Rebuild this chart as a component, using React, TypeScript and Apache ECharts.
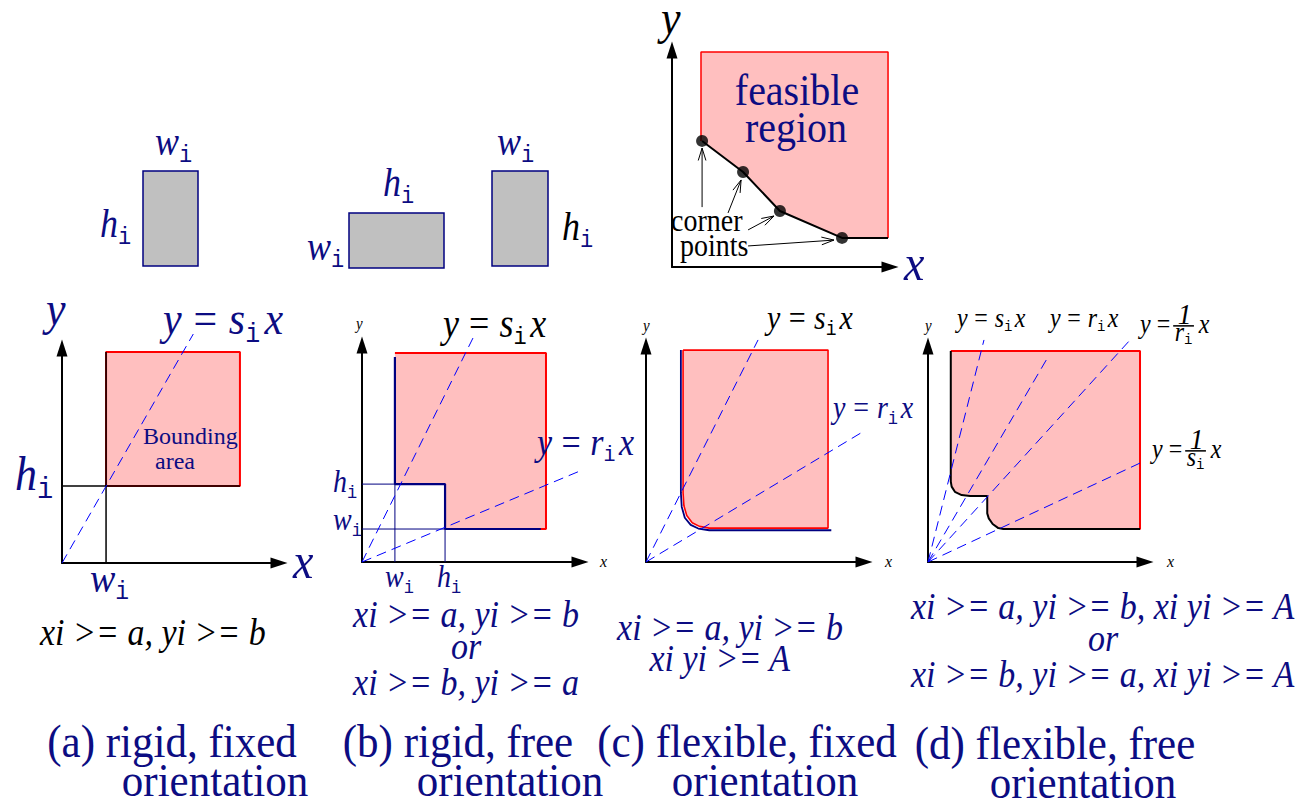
import React, { useEffect, useRef } from "react";
import * as echarts from "echarts";

// ---------- colours ----------
const NAVY = "#0c0c82";
const LINE_NAVY = "#000080";
const BLUE = "#0000ff";
const RED = "#ff0000";
const PINK = "#ffbfbf";
const GRAY = "#c0c0c0";
const BLACK = "#000000";

// ---------- panel grids: left, top, width, height, xMax, yMax, axesVisible ----------
const GRIDS = [
  [100, 130, 500, 150, 50, 15, false], // top row of boxes
  [672, 50, 218, 217, 10, 10, true], // feasible region
  [62, 348, 217, 215, 10, 10, true], // (a)
  [362, 345, 218, 217, 10, 10, true], // (b)
  [646, 346, 218, 216, 10, 10, true], // (c)
  [928, 346, 217, 216, 10, 10, true], // (d)
];

// ---------- top row: boxes [x1, y1, x2, y2] ----------
const boxes = [
  [4.3, 1.4, 9.8, 10.9],
  [24.9, 1.2, 34.4, 6.7],
  [39.2, 1.4, 44.8, 10.9],
];

// ---------- feasible region panel ----------
const fRegion = [[1.33, 5.81], [1.33, 9.91], [9.91, 9.91], [9.91, 1.34], [7.8, 1.34], [4.95, 2.58], [3.26, 4.38], [1.38, 5.81]];
const fCorners = [[1.38, 5.81], [3.26, 4.38], [4.95, 2.58], [7.8, 1.34]];
const fFrontier = [[1.38, 5.81], [3.26, 4.38], [4.95, 2.58], [7.8, 1.34], [9.91, 1.34]];
const fRedEdge = [[1.33, 5.81], [1.33, 9.91], [9.91, 9.91], [9.91, 1.34]];
const fArrows = [
  [1.38, 2.76, 1.38, 5.48],
  [2.57, 2.49, 3.17, 4.01],
  [3.49, 1.71, 4.68, 2.35],
  [3.49, 0.97, 7.43, 1.24],
];

// ---------- (a) rigid, fixed ----------
const aRegion = [[2.03, 3.58], [8.2, 3.58], [8.2, 9.81], [2.03, 9.81]];
const aRed = [[2.03, 3.58], [8.2, 3.58], [8.2, 9.81], [2.03, 9.81], [2.03, 3.58]];
const aW = [[2.03, 0], [2.03, 9.81]];
const aH = [[0, 3.58], [8.2, 3.58]];
const aS = [[0, 0], [6.05, 10.65]];

// ---------- (b) rigid, free ----------
const bRegion = [[1.51, 9.63], [8.44, 9.63], [8.44, 1.52], [3.81, 1.52], [3.81, 3.59], [1.51, 3.59]];
const bRed = [[1.51, 9.63], [8.44, 9.63], [8.44, 1.52], [3.81, 1.52]];
const bStair = [[1.51, 9.45], [1.51, 3.59], [3.81, 3.59], [3.81, 1.52], [8.2, 1.52]];
const bThin = [
  [[0, 3.59], [1.51, 3.59]],
  [[0, 1.52], [3.81, 1.52]],
  [[1.51, 0], [1.51, 3.59]],
  [[3.81, 0], [3.81, 1.52]],
];
const bS = [[0, 0], [5.09, 10.32]];
const bR = [[0, 0], [10.32, 4.33]];

// ---------- (c) flexible, fixed ----------
const cRegion = [[1.7, 9.81], [8.35, 9.81], [8.35, 1.57], [2.9, 1.57], [2.45, 1.65], [2.12, 1.82], [1.87, 2.15], [1.74, 2.6], [1.7, 3.2]];
const cRed = [[1.7, 9.81], [8.35, 9.81], [8.35, 1.57], [2.9, 1.57], [2.45, 1.65], [2.12, 1.82], [1.87, 2.15], [1.74, 2.6], [1.7, 3.2], [1.7, 9.81]];
const cNavy = [[1.6, 9.81], [1.6, 3.2], [1.64, 2.55], [1.78, 2.05], [2.05, 1.72], [2.4, 1.55], [2.9, 1.47], [8.5, 1.47]];
const cS = [[0, 0], [5.14, 10.28]];
const cR = [[0, 0], [10.23, 6.2]];

// ---------- (d) flexible, free ----------
const dStair = [[1.05, 9.77], [1.05, 3.72], [1.09, 3.49], [1.24, 3.25], [1.55, 3.1], [1.94, 3.06], [2.73, 3.06], [2.73, 2.25], [2.8, 2.02], [2.98, 1.76], [3.24, 1.57], [3.47, 1.53], [9.77, 1.53]];
const dRegion = [...dStair, [9.77, 9.77]];
const dRed = [[1.05, 9.77], [9.77, 9.77], [9.77, 1.53], [3.47, 1.53]];
const dS = [[0, 0], [2.58, 10.28]];
const dR = [[0, 0], [5.53, 9.49]];
const dRinv = [[0, 0], [9.34, 10.31]];
const dSinv = [[0, 0], [9.77, 4.58]];

// ---------- texts ----------
const captions = [
  ["(a) rigid, fixed", "orientation"],
  ["(b) rigid, free", "orientation"],
  ["(c) flexible, fixed", "orientation"],
  ["(d) flexible, free", "orientation"],
];
const consA = ["xi >= a, yi >= b"];
const consB = ["xi >= a, yi >= b", "or", "xi >= b, yi >= a"];
const consC = ["xi >= a, yi >= b", "xi yi >= A"];
const consD = ["xi >= a, yi >= b, xi yi >= A", "or", "xi >= b, yi >= a, xi yi >= A"];

// ---------- text helpers ----------
const ZT = 100;
let ctx: any = null;
function fontOf(f: string, s: number) {
  return (f === "i" ? "italic " : "") + s + "px " + (f === "m" ? '"Liberation Mono", monospace' : '"Liberation Serif", serif');
}
function meas(t: string, font: string, s: number) {
  if (!ctx) ctx = document.createElement("canvas").getContext("2d");
  ctx.font = font;
  const m = ctx.measureText(t);
  const a = m.fontBoundingBoxAscent != null ? m.fontBoundingBoxAscent : 0.891 * s;
  const d = m.fontBoundingBoxDescent != null ? m.fontBoundingBoxDescent : 0.216 * s;
  return { w: m.width, c: (a - d) / 2 };
}
function txt(x: number, y: number, text: string, font: string, fill: string) {
  return {
    type: "text",
    x,
    y,
    z: ZT,
    silent: true,
    style: { text, font, fill, align: "left", verticalAlign: "middle", textAlign: "left", textVerticalAlign: "middle" },
  };
}
function label(x: number, base: number, segs: any[], color: string, opts: any = {}) {
  const sy = opts.sy != null ? opts.sy : 1.1;
  const anchor = opts.anchor || "left";
  const ms = segs.map((sg) => {
    const font = fontOf(sg.f, sg.s);
    return { sg, font, ...meas(sg.t, font, sg.s) };
  });
  const total = ms.reduce((acc, m) => acc + m.w + (m.sg.dx || 0), 0);
  let cx = anchor === "center" ? -total / 2 : anchor === "right" ? -total : 0;
  const children = ms.map((m) => {
    cx += m.sg.dx || 0;
    const el = txt(cx, (m.sg.dy || 0) - m.c, m.sg.t, m.font, m.sg.col || color);
    cx += m.w;
    return el;
  });
  return { type: "group", x, y: base, scaleY: sy, z: ZT, silent: true, children };
}
const one = (t: string, f: string, s: number) => [{ t, f, s }];
const sub = (letter: string, S: number, col?: string, subCol?: string) => [
  { t: letter, f: "i", s: S, col },
  { t: "i", f: "m", s: Math.round(S * 0.61), dy: S * 0.17, col: subCol },
];
const eq = (letter: string, S: number) => [
  { t: "y", f: "i", s: S },
  { t: "=", f: "r", s: S, dx: S * 0.28 },
  { t: letter, f: "i", s: S, dx: S * 0.28 },
  { t: "i", f: "m", s: Math.round(S * 0.6), dy: S * 0.17 },
  { t: "x", f: "i", s: S, dx: S * 0.1 },
];
function frac(x: number, base: number, letter: string, S: number, color: string) {
  const sy = 1.1;
  const fy = fontOf("i", S);
  const fr = fontOf("r", S);
  const fn = fontOf("i", S * 1.15);
  const fd = fontOf("i", S);
  const fm = fontOf("m", Math.round(S * 0.6));
  const my = meas("y", fy, S);
  const me = meas("=", fr, S);
  const mn = meas("1", fn, S * 1.15);
  const md = meas(letter, fd, S);
  const mi = meas("i", fm, S * 0.6);
  const gap = S * 0.25;
  const children: any[] = [];
  let cx = 0;
  children.push(txt(cx, -my.c, "y", fy, color));
  cx += my.w + gap;
  children.push(txt(cx, -me.c, "=", fr, color));
  cx += me.w + gap * 0.5;
  const denW = md.w + mi.w;
  const barW = Math.max(mn.w, denW) + 3;
  const barY = -S * 0.27;
  children.push({ type: "line", z: ZT, silent: true, shape: { x1: cx, y1: barY, x2: cx + barW, y2: barY }, style: { stroke: color, lineWidth: 1.4 } });
  children.push(txt(cx + (barW - mn.w) / 2 + 1, barY - 2 - mn.c, "1", fn, color));
  const dBase = barY + 2 + S * 0.47;
  const dx0 = cx + (barW - denW) / 2;
  children.push(txt(dx0, dBase - md.c, letter, fd, color));
  children.push(txt(dx0 + md.w, dBase + S * 0.14 - mi.c, "i", fm, color));
  cx += barW + gap * 0.8;
  children.push(txt(cx, -my.c, "x", fy, color));
  return { type: "group", x, y: base, scaleY: sy, z: ZT, silent: true, children };
}

function buildGraphic() {
  const g: any[] = [];
  const S = 36;
  // top row labels
  g.push(label(155, 155, sub("w", S), NAVY));
  g.push(label(100, 237, sub("h", S), NAVY));
  g.push(label(383, 196, sub("h", S), NAVY));
  g.push(label(307, 260, sub("w", S), NAVY));
  g.push(label(497, 155, sub("w", S), NAVY));
  g.push(label(562, 240, sub("h", S, BLACK, NAVY), NAVY));
  // feasible region panel
  g.push(label(661, 34, one("y", "i", 44), BLACK));
  g.push(label(904, 280, one("x", "i", 46), NAVY));
  g.push(label(797, 105, one("feasible", "r", 40), NAVY, { anchor: "center" }));
  g.push(label(796, 142, one("region", "r", 40), NAVY, { anchor: "center" }));
  g.push(label(671, 231, one("corner", "r", 28), BLACK));
  g.push(label(680, 256, one("points", "r", 28), BLACK));
  // (a)
  g.push(label(46, 325, one("y", "i", 44), NAVY));
  g.push(label(293, 578, one("x", "i", 46), NAVY));
  g.push(label(15, 490, sub("h", 44), NAVY));
  g.push(label(90, 592, sub("w", 38), NAVY));
  g.push(label(163, 334, eq("s", 42), NAVY));
  g.push(label(143, 444, one("Bounding", "r", 24), NAVY, { sy: 1.0 }));
  g.push(label(155, 469, one("area", "r", 24), NAVY, { sy: 1.0 }));
  // (b)
  g.push(label(356, 329, one("y", "i", 15), BLACK));
  g.push(label(600, 567, one("x", "i", 16), BLACK));
  g.push(label(443, 337, eq("s", 36), BLACK));
  g.push(label(537, 455, eq("r", 34), NAVY));
  g.push(label(333, 492, sub("h", 28), NAVY));
  g.push(label(333, 530, sub("w", 28), NAVY));
  g.push(label(385, 587, sub("w", 28), NAVY));
  g.push(label(437, 587, sub("h", 28), NAVY));
  // (c)
  g.push(label(643, 331, one("y", "i", 15), BLACK));
  g.push(label(885, 567, one("x", "i", 16), BLACK));
  g.push(label(767, 330, eq("s", 30), BLACK));
  g.push(label(833, 418, eq("r", 28), NAVY));
  // (d)
  g.push(label(925, 331, one("y", "i", 15), BLACK));
  g.push(label(1167, 567, one("x", "i", 16), BLACK));
  g.push(label(957, 327, eq("s", 24), BLACK));
  g.push(label(1050, 327, eq("r", 24), BLACK));
  g.push(frac(1140, 333, "r", 24, BLACK));
  g.push(frac(1152, 458, "s", 24, BLACK));
  // constraints
  const CS = 34;
  g.push(label(40, 645, one(consA[0], "i", CS), BLACK));
  [627, 659, 695].forEach((b, i) => g.push(label(466, b, one(consB[i], "i", CS), NAVY, { anchor: "center" })));
  g.push(label(730, 640, one(consC[0], "i", CS), NAVY, { anchor: "center" }));
  g.push(label(720, 671, one(consC[1], "i", CS), NAVY, { anchor: "center" }));
  [619, 651, 687].forEach((b, i) => g.push(label(1103, b, one(consD[i], "i", CS), NAVY, { anchor: "center" })));
  // captions
  const capPos = [
    [172, 757, 215, 796],
    [458, 757, 510, 796],
    [747, 757, 765, 796],
    [1055, 759, 1083, 798],
  ];
  captions.forEach((c, i) => {
    const p = capPos[i];
    g.push(label(p[0], p[1], one(c[0], "r", 43), NAVY, { anchor: "center", sy: 1.08 }));
    g.push(label(p[2], p[3], one(c[1], "r", 43), NAVY, { anchor: "center", sy: 1.08 }));
  });
  return g;
}

// ---------- series helpers ----------
const lineS = (gi: number, data: any, color: string, width: number, dash?: number[], z = 3) => ({
  type: "line",
  xAxisIndex: gi,
  yAxisIndex: gi,
  data,
  symbol: "none",
  showSymbol: false,
  clip: false,
  silent: true,
  z,
  lineStyle: { color, width, type: dash ? dash : "solid", cap: "butt" },
});
const polyS = (gi: number, verts: number[][], fill: string) => ({
  type: "custom",
  xAxisIndex: gi,
  yAxisIndex: gi,
  data: verts,
  silent: true,
  z: 1,
  renderItem: (p: any, api: any) =>
    p.dataIndex === 0 ? { type: "polygon", shape: { points: verts.map((v) => api.coord(v)) }, style: { fill } } : null,
});
const DASH = [10, 6];

function buildOption() {
  const xAxis: any[] = [];
  const yAxis: any[] = [];
  const grid: any[] = [];
  GRIDS.forEach((g: any, i) => {
    grid.push({ left: g[0], top: g[1], width: g[2], height: g[3], containLabel: false });
    const ax = (max: number) => ({
      type: "value",
      gridIndex: i,
      min: 0,
      max,
      show: g[6],
      axisLine: {
        show: g[6],
        onZero: false,
        symbol: ["none", "triangle"],
        symbolSize: [11, 17],
        lineStyle: { color: BLACK, width: 2 },
      },
      axisTick: { show: false },
      axisLabel: { show: false },
      splitLine: { show: false },
    });
    xAxis.push(ax(g[4]));
    yAxis.push(ax(g[5]));
  });

  const series: any[] = [];
  // top boxes
  series.push({
    type: "custom",
    xAxisIndex: 0,
    yAxisIndex: 0,
    data: boxes,
    silent: true,
    renderItem: (p: any, api: any) => {
      const a = api.coord([api.value(0), api.value(1)]);
      const b = api.coord([api.value(2), api.value(3)]);
      return {
        type: "rect",
        shape: { x: a[0], y: b[1], width: b[0] - a[0], height: a[1] - b[1] },
        style: { fill: GRAY, stroke: LINE_NAVY, lineWidth: 1.5 },
      };
    },
  });
  // feasible region
  series.push(polyS(1, fRegion, PINK));
  series.push(lineS(1, fRedEdge, RED, 1.5));
  series.push(lineS(1, fFrontier, BLACK, 2));
  series.push({ type: "scatter", xAxisIndex: 1, yAxisIndex: 1, data: fCorners, symbolSize: 12, itemStyle: { color: BLACK }, silent: true, z: 5 });
  series.push({
    type: "custom",
    xAxisIndex: 1,
    yAxisIndex: 1,
    data: fArrows,
    silent: true,
    z: 4,
    renderItem: (p: any, api: any) => {
      const p1 = api.coord([api.value(0), api.value(1)]);
      const p2 = api.coord([api.value(2), api.value(3)]);
      const ang = Math.atan2(p2[1] - p1[1], p2[0] - p1[0]);
      const L = 13;
      const A = 0.3;
      const h1 = [p2[0] - L * Math.cos(ang - A), p2[1] - L * Math.sin(ang - A)];
      const h2 = [p2[0] - L * Math.cos(ang + A), p2[1] - L * Math.sin(ang + A)];
      return {
        type: "group",
        children: [
          { type: "line", shape: { x1: p1[0], y1: p1[1], x2: p2[0], y2: p2[1] }, style: { stroke: BLACK, lineWidth: 1 } },
          { type: "polyline", shape: { points: [h1, p2, h2] }, style: { stroke: BLACK, fill: "none", lineWidth: 1 } },
        ],
      };
    },
  });
  // (a)
  series.push(polyS(2, aRegion, PINK));
  series.push(lineS(2, aRed, RED, 2));
  series.push(lineS(2, aW, BLACK, 1.5));
  series.push(lineS(2, aH, BLACK, 1.5));
  series.push(lineS(2, aS, BLUE, 1, DASH, 4));
  // (b)
  series.push(polyS(3, bRegion, PINK));
  series.push(lineS(3, bRed, RED, 2));
  bThin.forEach((l) => series.push(lineS(3, l, LINE_NAVY, 1)));
  series.push(lineS(3, bStair, LINE_NAVY, 2.2));
  series.push(lineS(3, bS, BLUE, 1, DASH, 4));
  series.push(lineS(3, bR, BLUE, 1, DASH, 4));
  // (c)
  series.push(polyS(4, cRegion, PINK));
  series.push(lineS(4, cRed, RED, 1.6));
  series.push(lineS(4, cNavy, LINE_NAVY, 1.8));
  series.push(lineS(4, cS, BLUE, 1, DASH, 4));
  series.push(lineS(4, cR, BLUE, 1, DASH, 4));
  // (d)
  series.push(polyS(5, dRegion, PINK));
  series.push(lineS(5, dRed, RED, 2));
  series.push(lineS(5, dStair, BLACK, 2));
  series.push(lineS(5, dS, BLUE, 1, DASH, 4));
  series.push(lineS(5, dR, BLUE, 1, DASH, 4));
  series.push(lineS(5, dRinv, BLUE, 1, DASH, 4));
  series.push(lineS(5, dSinv, BLUE, 1, DASH, 4));

  return {
    animation: false,
    backgroundColor: "#ffffff",
    grid,
    xAxis,
    yAxis,
    series,
    graphic: buildGraphic(),
  };
}

export default function App() {
  const ref = useRef<HTMLDivElement>(null);
  useEffect(() => {
    const chart = echarts.init(ref.current as HTMLDivElement, null, { renderer: "svg" });
    chart.setOption(buildOption() as any);
    return () => chart.dispose();
  }, []);
  return (
    <div
      ref={ref}
      style={{ position: "absolute", left: 0, top: 0, width: 1298, height: 808, background: "#ffffff" }}
    />
  );
}
